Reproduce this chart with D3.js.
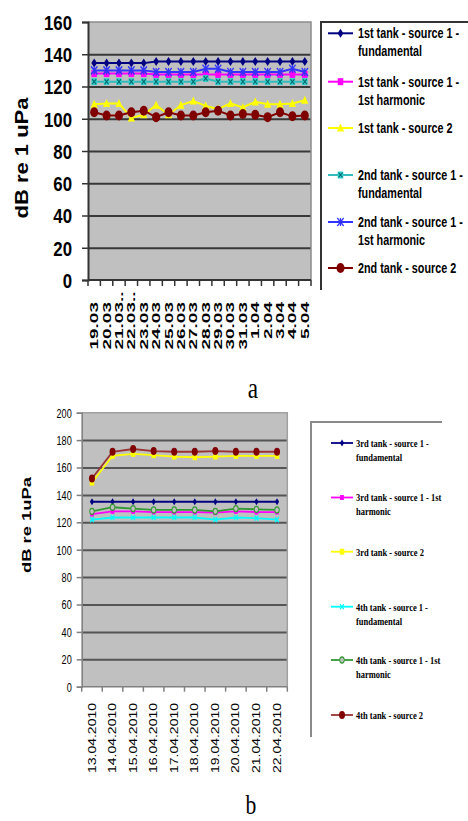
<!DOCTYPE html>
<html>
<head>
<meta charset="utf-8">
<script src="https://cdn.jsdelivr.net/npm/d3@7"></script>
<style>
body { margin: 0; background: #fff; }
svg { display: block; }
</style>
</head>
<body>
<script>
// chart a - tanks 1 and 2
var datesA = ['19.03', '20.03', '21.03..', '22.03..', '23.03', '24.03', '25.03', '26.03', '27.03', '28.03',
    '29.03', '30.03', '31.03', '1.04', '2.04', '3.04', '4.04', '5.04']
var yTicksA = [0, 20, 40, 60, 80, 100, 120, 140, 160]
var tank1Fund = [134.5, 134.5, 134.5, 134.5, 134.5, 135.5, 135.5, 135.5, 135.5, 135.5, 135.5, 135.5, 135.5, 135.5, 135.5, 135.5, 135.5, 135.5]
var tank1Harm = [128, 128, 128, 128, 128, 127.5, 127.5, 127.5, 127.5, 127.5, 127.5, 127.5, 127.5, 127.5, 127.5, 127.5, 127.5, 127.5]
var tank1Src2 = [109, 109.5, 109.5, 100.5, 102.5, 108.5, 102.5, 108.5, 111, 108, 106, 109.5, 107, 110.5, 109, 109, 109.5, 111.5]
var tank2Fund = [123, 123, 123, 123, 123, 123, 123, 123, 123, 125, 123, 123, 123, 123, 123, 123, 123, 123]
var tank2Harm = [130, 130, 130, 130, 130, 129, 129, 129, 129, 131, 131, 129, 129, 129, 129, 129, 131, 129]
var tank2Src2 = [104, 102, 102, 104, 105, 101, 104, 102, 102, 104, 105, 102, 103, 102.5, 101, 104, 101.5, 102]
var namesA = ['1st tank - source 1 -|fundamental', '1st tank - source 1 -|1st harmonic', '1st tank - source 2',
    '2nd tank - source 1 -|fundamental', '2nd tank - source 1 -|1st harmonic', '2nd tank - source 2']

// chart b - tanks 3 and 4
var datesB = ['13.04.2010', '14.04.2010', '15.04.2010', '16.04.2010', '17.04.2010',
    '18.04.2010', '19.04.2010', '20.04.2010', '21.04.2010', '22.04.2010']
var yTicksB = [0, 20, 40, 60, 80, 100, 120, 140, 160, 180, 200]
var tank3Fund = [135, 135, 135, 135, 135, 135, 135, 135, 135, 135]
var tank3Harm = [126, 128, 128, 127.5, 127.5, 127.5, 127, 128, 127.5, 127.5]
var tank3Src2 = [149, 168.5, 170, 169, 168, 167.5, 168, 168.5, 168.5, 168.5]
var tank4Fund = [122, 123.5, 123.5, 123.5, 123.5, 123.5, 122, 123.5, 123, 122]
var tank4Harm = [128, 131, 130, 129, 129, 129, 128, 130, 129.5, 129]
var tank4Src2 = [152, 171.5, 173.5, 172, 171.5, 171.5, 172, 171.5, 171.5, 171.5]
var namesB = ['3rd tank - source 1 -|fundamental', '3rd tank - source 1 - 1st|harmonic', '3rd tank - source 2',
    '4th tank - source 1 -|fundamental', '4th tank - source 1 - 1st|harmonic', '4th tank - source 2']

var sans = 'Liberation Sans, Arial, sans-serif'
var serif = 'Liberation Serif, Times New Roman, serif'

var svg = d3.select('body')
    .append('svg')
    .attr('width', 468)
    .attr('height', 821)

function markerPath(type, s) {
    if (type == 'diamond') return 'M0,' + (-s) + 'L' + (s * 0.8) + ',0L0,' + s + 'L' + (-s * 0.8) + ',0Z'
    if (type == 'square' || type == 'squareX') return 'M' + (-s) + ',' + (-s) + 'h' + (2 * s) + 'v' + (2 * s) + 'h' + (-2 * s) + 'Z'
    if (type == 'triangle') return 'M0,' + (-s) + 'L' + s + ',' + (s * 0.8) + 'L' + (-s) + ',' + (s * 0.8) + 'Z'
    if (type == 'circle' || type == 'ring') return 'M' + s + ',0A' + s + ',' + s + ' 0 1,1 ' + (-s) + ',0A' + s + ',' + s + ' 0 1,1 ' + s + ',0Z'
    var x = 'M' + (-s) + ',' + (-s) + 'L' + s + ',' + s + 'M' + s + ',' + (-s) + 'L' + (-s) + ',' + s
    if (type == 'star') return x + 'M0,' + (-s) + 'L0,' + s
    return x
}

function drawMarker(g, type, x, y, s, color, sx) {
    var t = 'translate(' + x + ',' + y + ') scale(' + sx + ',1)'
    var p = g.append('path')
        .attr('d', markerPath(type, s))
        .attr('transform', t)
    if (type == 'x' || type == 'star') {
        p.attr('fill', 'none').attr('stroke', color).attr('stroke-width', 1.6)
    } else if (type == 'ring') {
        p.attr('fill', '#c0c0c0').attr('stroke', color).attr('stroke-width', 1.3)
    } else {
        p.attr('fill', color)
    }
    if (type == 'squareX') {
        g.append('path')
            .attr('d', markerPath('x', s * 0.7))
            .attr('transform', t)
            .attr('fill', 'none')
            .attr('stroke', '#006a6a')
            .attr('stroke-width', 1.2)
    }
}

function hText(g, str, x, y, sx, size, weight, family, anchor) {
    return g.append('text')
        .attr('transform', 'translate(' + x + ',' + y + ') scale(' + sx + ',1)')
        .attr('text-anchor', anchor || 'start')
        .attr('font-family', family)
        .attr('font-size', size)
        .attr('font-weight', weight)
        .attr('fill', '#000')
        .text(str)
}

function vText(g, str, x, y, sy, size, weight, family, anchor) {
    return g.append('text')
        .attr('transform', 'translate(' + x + ',' + y + ') rotate(-90) scale(1,' + sy + ')')
        .attr('text-anchor', anchor)
        .attr('dy', '0.35em')
        .attr('font-family', family)
        .attr('font-size', size)
        .attr('font-weight', weight)
        .attr('fill', '#000')
        .text(str)
}

function drawChart(c) {
    var g = svg.append('g')

    var x = d3.scaleBand().domain(c.dates).range([c.left, c.right])
    var y = d3.scaleLinear().domain([0, c.yMax]).range([c.bottom, c.top])
    var cx = (d) => x(d) + x.bandwidth() / 2

    // plot area
    g.append('rect')
        .attr('x', c.left)
        .attr('y', y(c.yMax))
        .attr('width', c.right - c.left)
        .attr('height', y(0) - y(c.yMax))
        .attr('fill', '#c0c0c0')

    // gridlines
    g.append('g')
        .attr('transform', 'translate(' + c.left + ',0)')
        .call(d3.axisLeft(y).tickValues(c.ticks.filter((t) => t > 0 && t < c.yMax)).tickSize(-(c.right - c.left)).tickFormat(''))
        .call((s) => s.select('.domain').remove())
        .selectAll('line')
        .attr('stroke', c.gridColor)
        .attr('stroke-width', 2)

    // top and right border
    g.append('path')
        .attr('d', 'M' + c.left + ',' + y(c.yMax) + 'H' + c.right + 'V' + y(0))
        .attr('fill', 'none')
        .attr('stroke', c.borderColor)
        .attr('stroke-width', 1.5)

    // y axis
    var yAxis = g.append('g')
        .attr('transform', 'translate(' + c.left + ',0)')
        .call(d3.axisLeft(y).tickValues(c.ticks).tickSize(c.tickLen))
    yAxis.select('.domain').attr('stroke', c.axisColor).attr('stroke-width', c.axisWidth)
    yAxis.selectAll('line').attr('stroke', c.axisColor).attr('stroke-width', 1.5)
    yAxis.selectAll('text')
        .attr('x', -c.labelOff / c.labelSx)
        .attr('dy', '0.35em')
        .attr('transform', 'scale(' + c.labelSx + ',1)')
        .attr('font-family', sans)
        .attr('font-size', c.labelSize)
        .attr('font-weight', c.labelWeight)
        .attr('fill', '#000')

    // x axis with ticks on category boundaries
    var xAxis = g.append('g')
        .attr('transform', 'translate(0,' + c.bottom + ')')
        .call(d3.axisBottom(x).tickSize(c.tickLen).tickFormat(''))
    xAxis.select('.domain').attr('d', 'M' + c.left + ',0H' + c.right).attr('stroke', c.axisColor).attr('stroke-width', c.axisWidth)
    xAxis.selectAll('.tick').attr('transform', (d) => 'translate(' + x(d) + ',0)')
    xAxis.append('line')
        .attr('x1', c.right).attr('x2', c.right)
        .attr('y1', 0).attr('y2', c.tickLen)
    xAxis.selectAll('line').attr('stroke', c.axisColor).attr('stroke-width', 1.5)

    // x labels, rotated, reading upwards
    c.dates.forEach(function (d) {
        var main = d.replace(/\.\.$/, '')
        vText(g, main, cx(d), c.xLabelTop, c.xLabelSy, c.xLabelSize, c.labelWeight, sans, 'end')
        if (main != d) {
            vText(g, '..', cx(d), c.xLabelTop, c.xLabelSy, c.xLabelSize, c.labelWeight, sans, 'start')
        }
    })

    // y title
    vText(g, c.title, c.titleX, c.titleY, c.titleSy, c.titleSize, 'bold', sans, 'middle')

    // series
    var line = d3.line()
        .x((v, i) => cx(c.dates[i]))
        .y((v) => y(v))

    c.series.forEach(function (vals, k) {
        g.append('path')
            .attr('d', line(vals))
            .attr('fill', 'none')
            .attr('stroke', c.lineColors[k])
            .attr('stroke-width', c.lineWidth)
        vals.forEach(function (v, i) {
            drawMarker(g, c.markers[k], cx(c.dates[i]), y(v), c.markerSizes[k], c.markerColors[k], c.markerSx)
        })
    })

    // legend
    var lg = g.append('g')
    lg.append('path')
        .attr('d', c.legendBox)
        .attr('fill', 'none')
        .attr('stroke', c.legendStroke)
        .attr('stroke-width', 2)

    c.names.forEach(function (name, k) {
        var ly = c.legendRows[k]
        lg.append('line')
            .attr('x1', c.legendLine[0]).attr('x2', c.legendLine[1])
            .attr('y1', ly).attr('y2', ly)
            .attr('stroke', c.lineColors[k])
            .attr('stroke-width', c.lineWidth)
        drawMarker(lg, c.markers[k], (c.legendLine[0] + c.legendLine[1]) / 2, ly, c.markerSizes[k], c.markerColors[k], c.markerSx)
        name.split('|').forEach(function (part, j) {
            hText(lg, part, c.legendTextX, ly + c.legendFont * 0.35 + j * c.legendGap, c.legendSx, c.legendFont, 'bold', c.legendFamily)
        })
    })
}

drawChart({
    dates: datesA, ticks: yTicksA, yMax: 160,
    left: 88, right: 311, top: 22, bottom: 280,
    gridColor: '#383838', borderColor: '#8c8c8c', axisColor: '#333', axisWidth: 2, tickLen: 6,
    labelOff: 16, labelSx: 0.8, labelSize: 21, labelWeight: 'bold',
    xLabelTop: 302, xLabelSy: 0.6, xLabelSize: 19,
    title: 'dB re 1 uPa', titleX: 22, titleY: 158, titleSy: 0.82, titleSize: 22,
    series: [tank1Fund, tank1Harm, tank1Src2, tank2Fund, tank2Harm, tank2Src2],
    lineColors: ['#000080', '#ff00ff', '#ffff00', '#33bbbb', '#3333ff', '#800000'],
    markerColors: ['#000080', '#ff00ff', '#ffff00', '#33cccc', '#3333ff', '#800000'],
    markers: ['diamond', 'square', 'triangle', 'squareX', 'star', 'circle'],
    markerSizes: [4.5, 3.5, 4.5, 3.5, 4, 5],
    markerSx: 0.8, lineWidth: 2,
    names: namesA,
    legendBox: 'M321,290V22H475',
    legendStroke: '#333',
    legendLine: [328, 353], legendTextX: 358,
    legendRows: [33.3, 81.7, 128, 175, 222, 268],
    legendGap: 18, legendFont: 14, legendSx: 0.77, legendFamily: sans
})

drawChart({
    dates: datesB, ticks: yTicksB, yMax: 200,
    left: 81.7, right: 287.3, top: 412.7, bottom: 686.7,
    gridColor: '#555', borderColor: '#a0a0a0', axisColor: '#808080', axisWidth: 1.5, tickLen: 5,
    labelOff: 10, labelSx: 0.73, labelSize: 12.5, labelWeight: 'normal',
    xLabelTop: 703, xLabelSy: 0.73, xLabelSize: 14,
    title: 'dB re 1uPa', titleX: 26.5, titleY: 525, titleSy: 0.73, titleSize: 18.4,
    series: [tank3Fund, tank3Harm, tank3Src2, tank4Fund, tank4Harm, tank4Src2],
    lineColors: ['#000080', '#ff00ff', '#ffff00', '#00ffff', '#339933', '#993333'],
    markerColors: ['#000080', '#ff00ff', '#ffff00', '#00ffff', '#339933', '#800000'],
    markers: ['diamond', 'square', 'square', 'x', 'ring', 'circle'],
    markerSizes: [3.5, 2.5, 3, 2.5, 3, 4],
    markerSx: 0.75, lineWidth: 1.8,
    names: namesB,
    legendBox: 'M311,737V422H442',
    legendStroke: '#8a8a8a',
    legendLine: [331, 353], legendTextX: 356,
    legendRows: [443, 497.5, 551.7, 606.7, 660, 715],
    legendGap: 14, legendFont: 11, legendSx: 0.77, legendFamily: serif
})

// sub-figure letters
hText(svg, 'a', 253, 398, 0.8, 29, 'normal', serif, 'middle')
hText(svg, 'b', 251, 814, 0.8, 27, 'normal', serif, 'middle')
</script>
</body>
</html>
